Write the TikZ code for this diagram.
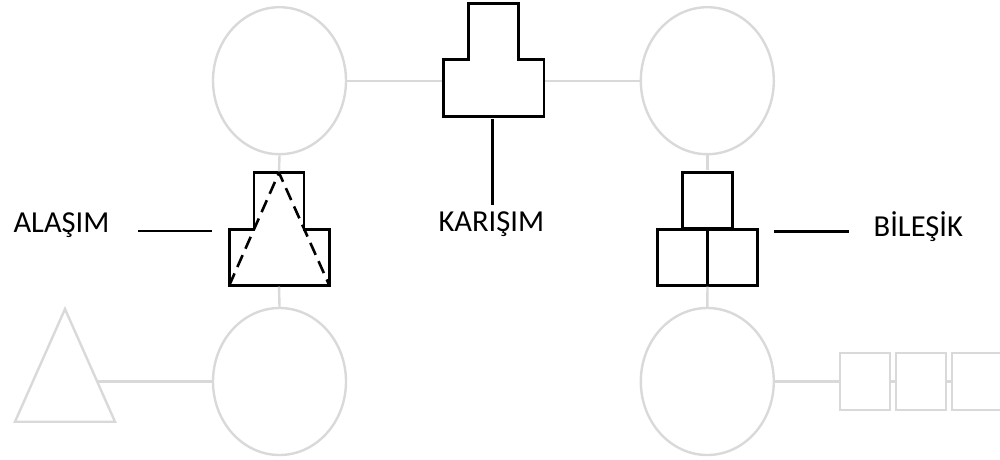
\documentclass[tikz,border=0pt]{standalone}
\usepackage{fontspec}
\setmainfont{Carlito}
\usetikzlibrary{shapes.geometric}

\definecolor{bondgray}{HTML}{D9D9D9}

\tikzset{
    atom/.style={ellipse, draw=bondgray, line width=2.4pt, minimum width=133pt, minimum height=147pt, inner sep=0pt},
    bond/.style={draw=bondgray, line width=2.4pt},
    outline/.style={draw=black, line width=2.8pt},
    cell/.style={rectangle, draw=black, line width=2.8pt, minimum width=50pt, minimum height=56pt, inner sep=0pt},
    faintcell/.style={rectangle, draw=bondgray, line width=2.4pt, minimum width=50pt, minimum height=57pt, inner sep=0pt},
    tag/.style={anchor=base, font=\fontsize{30.5}{36}\selectfont, inner sep=0pt},
}

\begin{document}
\begin{tikzpicture}[x=1pt, y=-1pt]
    \useasboundingbox (0, 0) rectangle (1000, 459);

    \node[atom] (topl) at (279.5, 80.7) {};
    \node[atom] (topr) at (707.3, 80.7) {};
    \node[atom] (botl) at (279.5, 381.5) {};
    \node[atom] (botr) at (707.3, 381.5) {};

    % mixture
    \draw[outline] (443.3, 116.7) -- (443.3, 59.3) -- (468.3, 59.3) -- (468.3, 3.3)
        -- (518.3, 3.3) -- (518.3, 59.3) -- (544, 59.3) -- (544, 116.7) -- cycle;
    \coordinate (mixw) at (443.3, 80.7);
    \coordinate (mixe) at (544, 80.7);
    \coordinate (mixs) at (492.3, 119);
    \coordinate (mixend) at (492.3, 205);

    % alloy
    \draw[outline] (229.3, 285.3) -- (229.3, 229.3) -- (254, 229.3) -- (254, 172.7)
        -- (304, 172.7) -- (304, 229.3) -- (329.3, 229.3) -- (329.3, 285.3) -- cycle;
    \coordinate (alloyn) at (279, 172.7);
    \coordinate (alloys) at (279, 285.3);
    \draw[dash pattern=on 13pt off 7pt, line width=2.6pt]
        (229.3, 285.3) -- (alloyn) -- (329.3, 285.3);
    \coordinate (alloytip) at (212.3, 231);
    \coordinate (alloyend) at (137.7, 231);

    % compound
    \node[cell] (cmpt) at (707.3, 200.8) {};
    \node[cell] (cmpl) at (682.6, 257.2) {};
    \node[cell] (cmpr) at (732.5, 257.2) {};
    \coordinate (cmpjoin) at (707.5, 285.3);
    \coordinate (cmptip) at (774, 231.7);
    \coordinate (cmpend) at (849.3, 231.7);

    % faint neighbours
    \coordinate (triapex) at (65, 309);
    \coordinate (trileft) at (15, 421.7);
    \coordinate (triright) at (115, 421.7);
    \draw[bond] (triapex) -- (trileft) -- (triright) -- cycle;
    \coordinate (trie) at (98.2, 381.5);
    \node[faintcell] (sq1) at (865, 381.5) {};
    \node[faintcell] (sq2) at (921, 381.5) {};
    \node[faintcell] (sq3) at (977, 381.5) {};

    \draw[bond, shorten >=1.4pt] (topl.east) -- (mixw);
    \draw[bond, shorten <=1.4pt] (mixe) -- (topr.west);
    \draw[bond, shorten >=1.4pt] (topl.south) -- (alloyn);
    \draw[bond, shorten <=1.4pt] (alloys) -- (botl.north);
    \draw[bond, shorten >=1.4pt] (topr.south) -- (cmpt.north);
    \draw[bond, shorten <=1.4pt] (cmpjoin) -- (botr.north);
    \draw[bond] (trie) -- (botl.west);
    \draw[bond] (botr.east) -- (sq1.west);
    \draw[bond] (sq1.east) -- (sq2.west);
    \draw[bond] (sq2.east) -- (sq3.west);

    \draw[outline] (mixs) -- (mixend);
    \draw[outline] (alloyend) -- (alloytip);
    \draw[outline] (cmptip) -- (cmpend);

    \node[tag] (alloy) at (61.5, 232) {ALAŞIM};
    \node[tag] (mix) at (491.3, 231.7) {KARIŞIM};
    \node[tag] (cmp) at (918.3, 236.7) {BİLEŞİK};
\end{tikzpicture}
\end{document}
